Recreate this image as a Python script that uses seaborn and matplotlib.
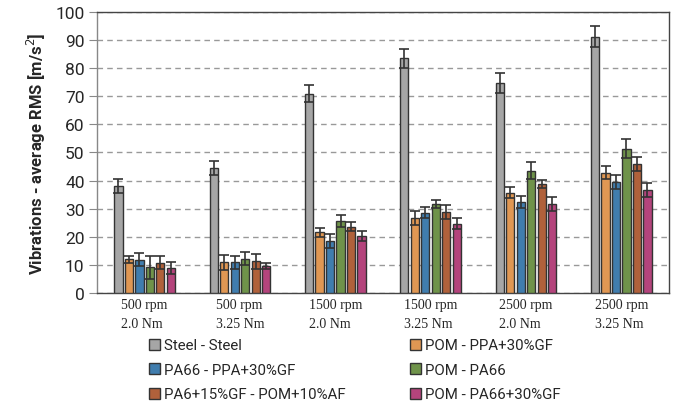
import pandas as pd
import numpy as np
import matplotlib
matplotlib.use('Agg')
import matplotlib.pyplot as plt
import seaborn as sns

# ── data ─────────────────────────────────────
groups = ['500 rpm\n2.0 Nm', '500 rpm\n3.25 Nm', '1500 rpm\n2.0 Nm',
          '1500 rpm\n3.25 Nm', '2500 rpm\n2.0 Nm', '2500 rpm\n3.25 Nm']
pairs = ['Steel - Steel', 'POM - PPA+30%GF', 'PA66 - PPA+30%GF',
         'POM - PA66', 'PA6+15%GF - POM+10%AF', 'POM - PA66+30%GF']

steel_steel   = [38.0, 44.5, 70.9, 83.5, 74.8, 91.2]
pom_ppa       = [12.0, 10.9, 21.6, 26.7, 35.7, 42.8]
pa66_ppa      = [11.9, 10.9, 18.5, 28.6, 32.5, 39.5]
pom_pa66      = [9.1, 12.2, 25.7, 31.7, 43.5, 51.4]
pa6_pom       = [10.8, 11.2, 23.6, 28.7, 38.7, 46.0]
pom_pa66gf    = [8.8, 9.6, 20.4, 24.7, 31.7, 36.7]

err_steel     = [2.6, 2.5, 3.0, 3.3, 3.6, 3.8]
err_pom_ppa   = [1.3, 2.6, 1.6, 2.6, 2.0, 2.3]
err_pa66_ppa  = [2.4, 2.3, 2.6, 2.0, 2.1, 2.6]
err_pom_pa66  = [4.0, 2.4, 2.2, 1.4, 3.1, 3.4]
err_pa6_pom   = [2.3, 2.8, 1.6, 2.5, 1.5, 2.5]
err_pom_pa66gf = [2.1, 1.2, 1.8, 2.1, 2.6, 2.6]

colors = ['#a6a6a6', '#f7963c', '#2e7fc0', '#6f9f3e', '#c35a28', '#c6327c']

values = [steel_steel, pom_ppa, pa66_ppa, pom_pa66, pa6_pom, pom_pa66gf]
errors = [err_steel, err_pom_ppa, err_pa66_ppa, err_pom_pa66, err_pa6_pom, err_pom_pa66gf]

rows = []
for p, vals in zip(pairs, values):
    for g, v in zip(groups, vals):
        rows.append({'group': g, 'pair': p, 'value': v})
df = pd.DataFrame(rows)

# ── plot ─────────────────────────────────────
sns.set_style('white')
plt.rcParams['font.family'] = ['Roboto', 'DejaVu Sans']

fig = plt.figure(figsize=(6.76, 4.06), dpi=100)
ax = fig.add_axes([0.1435, 0.276, 0.846, 0.692])

sns.barplot(data=df, x='group', y='value', hue='pair', order=groups,
            hue_order=pairs, palette=colors, width=0.66, gap=0.22,
            errorbar=None, edgecolor='#333333', linewidth=1.0, ax=ax,
            zorder=3)

for cont, errs in zip(ax.containers, errors):
    xs = [b.get_x() + b.get_width() / 2 for b in cont]
    ys = [b.get_height() for b in cont]
    ax.errorbar(xs, ys, yerr=errs, fmt='none', ecolor='#333333',
                elinewidth=1.2, capsize=3.5, capthick=1.2, zorder=4)

ax.set_ylim(0, 100)
ax.set_xlim(-0.5, 5.5)
ax.set_yticks(range(0, 101, 10))
ax.yaxis.grid(True, linestyle=(0, (4, 3)), color='#999999', linewidth=1.0)
ax.set_axisbelow(True)
for s in ax.spines.values():
    s.set_visible(True)
    s.set_color('#444444')
    s.set_linewidth(1.0)
ax.spines['left'].set_color('#888888')

ax.tick_params(axis='y', left=True, length=6, width=0.8, color='#888888',
               labelsize=12.5, pad=3)
ax.tick_params(axis='x', bottom=False, pad=0)
ax.set_xticks(range(len(groups)))
ax.set_xticklabels(groups, family='Liberation Serif', fontsize=10,
                   linespacing=1.65, multialignment='left')
ax.set_xlabel('')
ax.set_ylabel('Vibrations - average RMS [m/s$^2$]', fontsize=12,
              fontweight='bold', labelpad=5)

# legend filled row by row, as in the original
handles, labels = ax.get_legend_handles_labels()
order = [0, 2, 4, 1, 3, 5]
ax.legend([handles[i] for i in order], [labels[i] for i in order],
          loc='upper left', bbox_to_anchor=(0.08, -0.14),
          ncol=2, frameon=False, fontsize=10.8, handlelength=0.75,
          handleheight=0.75, handletextpad=0.25, columnspacing=4.3,
          labelspacing=0.7, borderaxespad=0)

fig.savefig('out.png', dpi=100)
